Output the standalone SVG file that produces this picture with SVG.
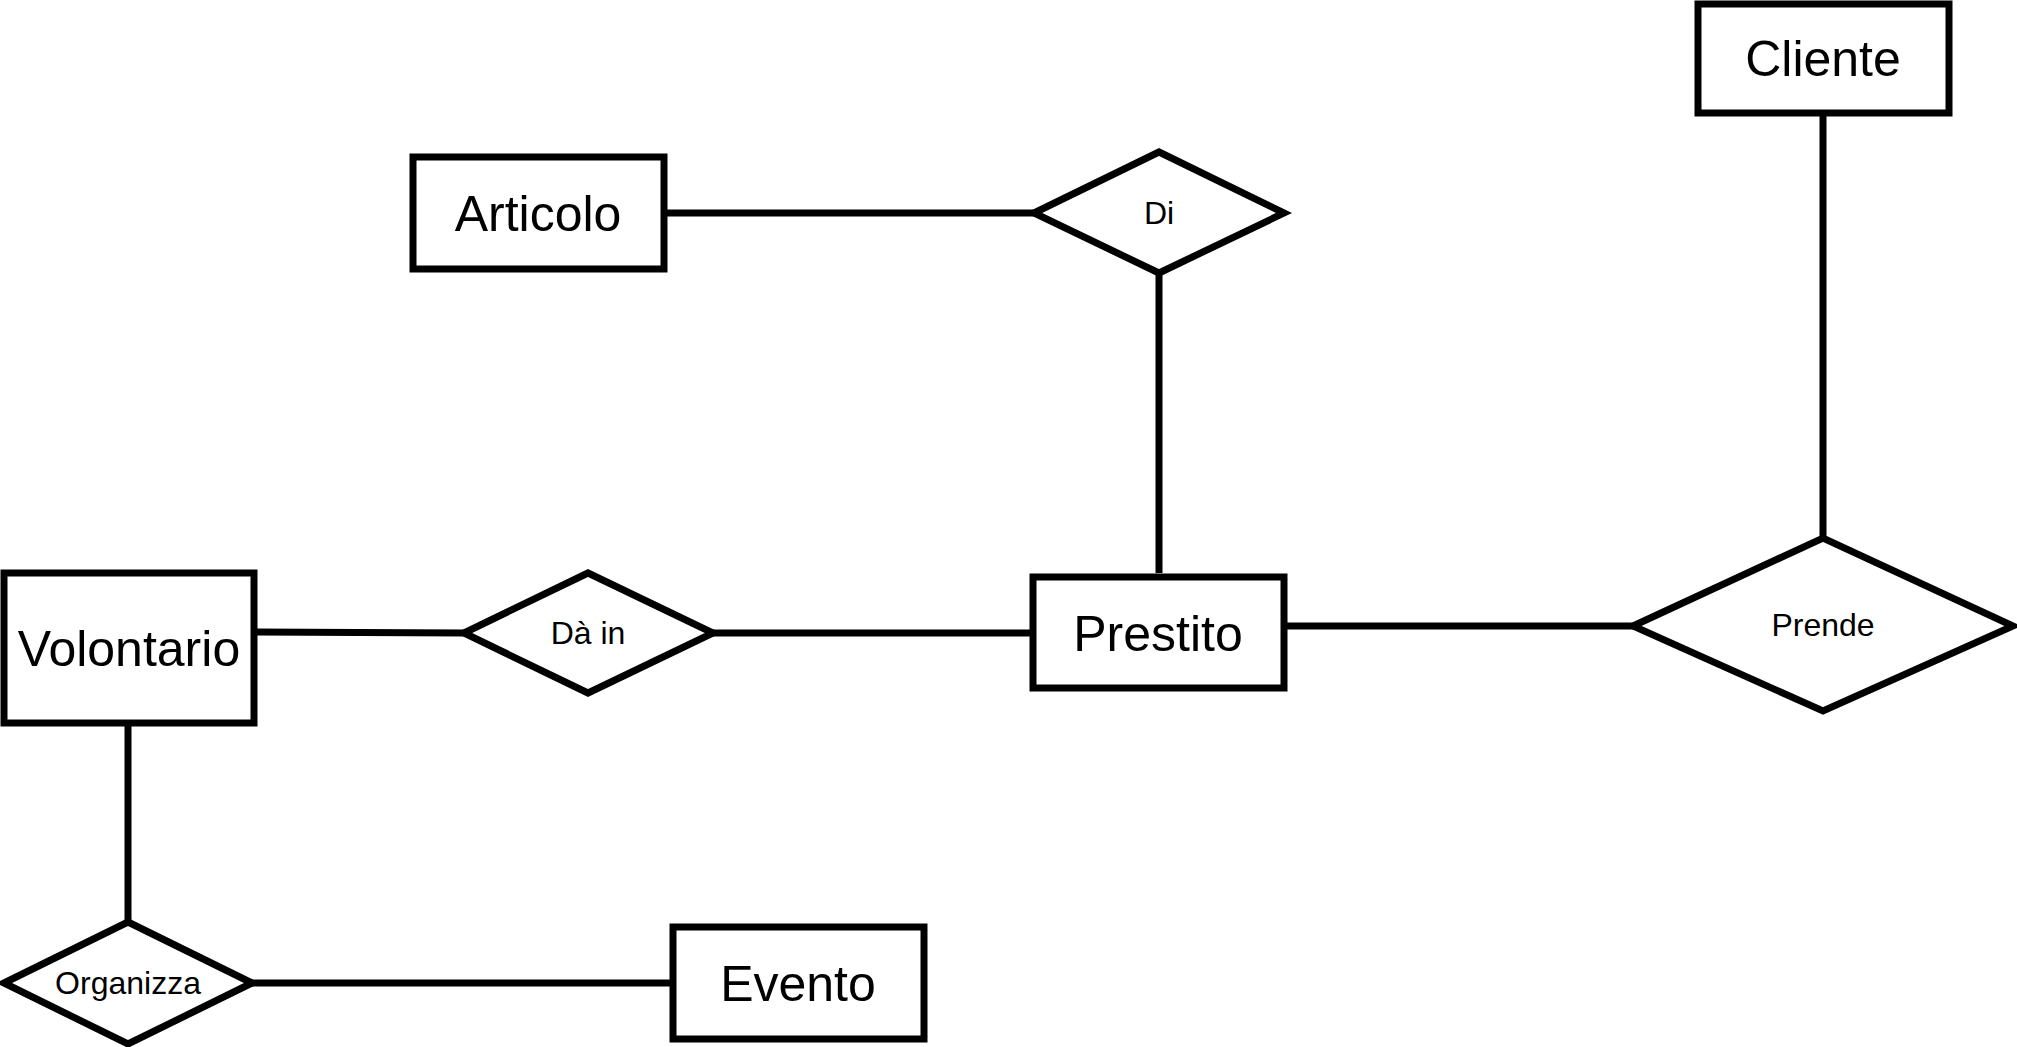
<svg xmlns="http://www.w3.org/2000/svg" width="2017" height="1047" viewBox="0 0 2017 1047">
<style>
.ent{fill:#fff;stroke:#000;stroke-width:7}
.rel{fill:#fff;stroke:#000;stroke-width:7;stroke-linejoin:miter}
.el{font-family:"Liberation Sans",Arial,sans-serif;font-size:50px;fill:#000;text-anchor:middle}
.rl{font-family:"Liberation Sans",Arial,sans-serif;font-size:32px;fill:#000;text-anchor:middle}
.c{stroke:#000;stroke-width:7;fill:none}
</style>
<rect width="2017" height="1047" fill="#fff"/>
<g id="connectors">
<line class="c" x1="664" y1="213" x2="1034" y2="213"/>
<line class="c" x1="1159" y1="273" x2="1159" y2="573"/>
<line class="c" x1="254" y1="632" x2="464" y2="633"/>
<line class="c" x1="713" y1="633" x2="1033" y2="633"/>
<line class="c" x1="1284" y1="626" x2="1633" y2="626"/>
<line class="c" x1="1823" y1="113" x2="1823" y2="538"/>
<line class="c" x1="128" y1="723" x2="128" y2="922"/>
<line class="c" x1="251" y1="983" x2="673" y2="983"/>
</g>
<g id="cliente"><rect class="ent" x="1698" y="4" width="251" height="109"/><text class="el" x="1823" y="76">Cliente</text></g>
<g id="articolo"><rect class="ent" x="413" y="157" width="251" height="112"/><text class="el" x="538" y="231">Articolo</text></g>
<g id="di"><polygon class="rel" points="1034,213 1159,152 1284,213 1159,273"/><text class="rl" x="1159" y="224">Di</text></g>
<g id="volontario"><rect class="ent" x="4" y="573" width="250" height="150"/><text class="el" x="129" y="666">Volontario</text></g>
<g id="dain"><polygon class="rel" points="464,633 588,573 713,633 588,693"/><text class="rl" x="588" y="644">Dà in</text></g>
<g id="prestito"><rect class="ent" x="1033" y="577" width="251" height="111"/><text class="el" x="1158" y="651">Prestito</text></g>
<g id="prende"><polygon class="rel" points="1633,626 1823,538 2013,626 1823,711"/><text class="rl" x="1823" y="636">Prende</text></g>
<g id="organizza"><polygon class="rel" points="4,983 128,922 252,983 128,1044"/><text class="rl" x="128" y="994">Organizza</text></g>
<g id="evento"><rect class="ent" x="673" y="927" width="251" height="112"/><text class="el" x="798" y="1001">Evento</text></g>
</svg>
